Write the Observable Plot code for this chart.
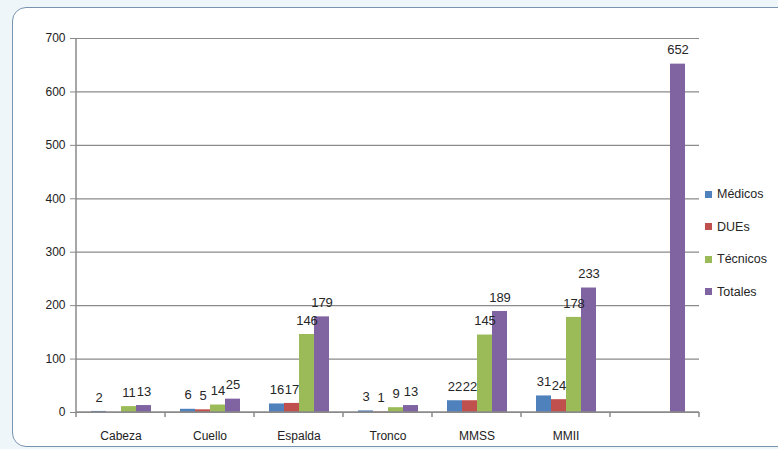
<!DOCTYPE html>
<html>
<head>
<meta charset="utf-8">
<script src="https://cdn.jsdelivr.net/npm/d3@7"></script>
<script src="https://cdn.jsdelivr.net/npm/@observablehq/plot@0.6"></script>
<style>
  html, body { margin: 0; padding: 0; }
  body { width: 778px; height: 449px; overflow: hidden; background: #eef6fa; font-family: "Liberation Sans", Arial, sans-serif; }
  #wrap { position: relative; width: 778px; height: 449px; }
  #frame { position: absolute; left: 12px; top: 7px; width: 800px; height: 438px; border: 1.5px solid #7893b0; border-radius: 14px; background: #ffffff; }
  #chart { position: absolute; left: 0; top: 0; }
  #legend { position: absolute; left: 705px; top: 178px; font-size: 12.5px; color: #262626; }
  .item { display: flex; align-items: center; height: 32.5px; }
  .sw { width: 7px; height: 7px; margin-right: 5px; }
</style>
</head>
<body>
<div id="wrap">
  <div id="frame"></div>
  <div id="chart"></div>
  <div id="legend"></div>
</div>
<script>
const categories = ["Cabeza", "Cuello", "Espalda", "Tronco", "MMSS", "MMII", ""];
const series = ["Médicos", "DUEs", "Técnicos", "Totales"];
const colors = ["#4f81bd", "#c0504d", "#9bbb59", "#8064a2"];
const medicos  = [2, 6, 16, 3, 22, 31, null];
const dues     = [null, 5, 17, 1, 22, 24, null];
const tecnicos = [11, 14, 146, 9, 145, 178, null];
const totales  = [13, 25, 179, 13, 189, 233, 652];
const yTicks = [0, 100, 200, 300, 400, 500, 600, 700];

const seriesValues = [medicos, dues, tecnicos, totales];
const rows = [];
categories.forEach((c, i) => {
  series.forEach((s, j) => {
    const v = seriesValues[j][i];
    if (v != null) rows.push({cat: c, series: s, value: v});
  });
});

const chart = Plot.plot({
  width: 700,
  height: 449,
  marginLeft: 74,
  marginRight: 0,
  marginTop: 38,
  marginBottom: 37,
  style: {background: "transparent", fontFamily: "Liberation Sans, Arial, sans-serif", color: "#262626"},
  fx: {domain: categories, padding: 0, label: null, axis: null},
  x: {domain: series, paddingInner: 0, paddingOuter: 0.8, axis: null},
  y: {domain: [0, 700], label: null, axis: null},
  color: {domain: series, range: colors},
  marks: [
    Plot.gridY(yTicks, {stroke: "#8a8a8a", strokeOpacity: 1, strokeWidth: 1.2}),
    Plot.barY(rows, {fx: "cat", x: "series", y: "value", fill: "series"}),
    Plot.text(rows, {fx: "cat", x: "series", y: "value", text: d => String(d.value), dy: -14, fontSize: 13, fill: "#262626"}),
    Plot.axisY({ticks: yTicks, tickSize: 6, tickPadding: 5, fontSize: 12, label: null, stroke: "#8a8a8a", fill: "#222", facetAnchor: "left"}),
    Plot.axisFx({domain: categories, tickSize: 0, tickPadding: 19, fontSize: 12, label: null, anchor: "bottom", fill: "#222"})
  ]
});
document.getElementById("chart").appendChild(chart);

// Category-boundary ticks, baseline and vertical axis line, from the scales
const fx = chart.scale("fx");
const ys = chart.scale("y");
const y0 = ys.apply(0), yTop = ys.apply(700);
const bounds = categories.map(c => fx.apply(c)).concat([fx.apply(categories[categories.length - 1]) + fx.bandwidth]);
const svg = d3.select(chart);
const g = svg.append("g").attr("stroke", "#8a8a8a").attr("stroke-width", 1.5);
g.append("line").attr("x1", bounds[0]).attr("x2", bounds[0]).attr("y1", yTop).attr("y2", y0);
g.append("line").attr("x1", bounds[0]).attr("x2", bounds[bounds.length - 1]).attr("y1", y0).attr("y2", y0);
bounds.forEach(b => g.append("line").attr("x1", b).attr("x2", b).attr("y1", y0).attr("y2", y0 + 5));

// Legend
const legend = document.getElementById("legend");
series.forEach((s, i) => {
  const it = document.createElement("div");
  it.className = "item";
  it.innerHTML = `<span class="sw" style="background:${colors[i]}"></span><span>${s}</span>`;
  legend.appendChild(it);
});
</script>
</body>
</html>
